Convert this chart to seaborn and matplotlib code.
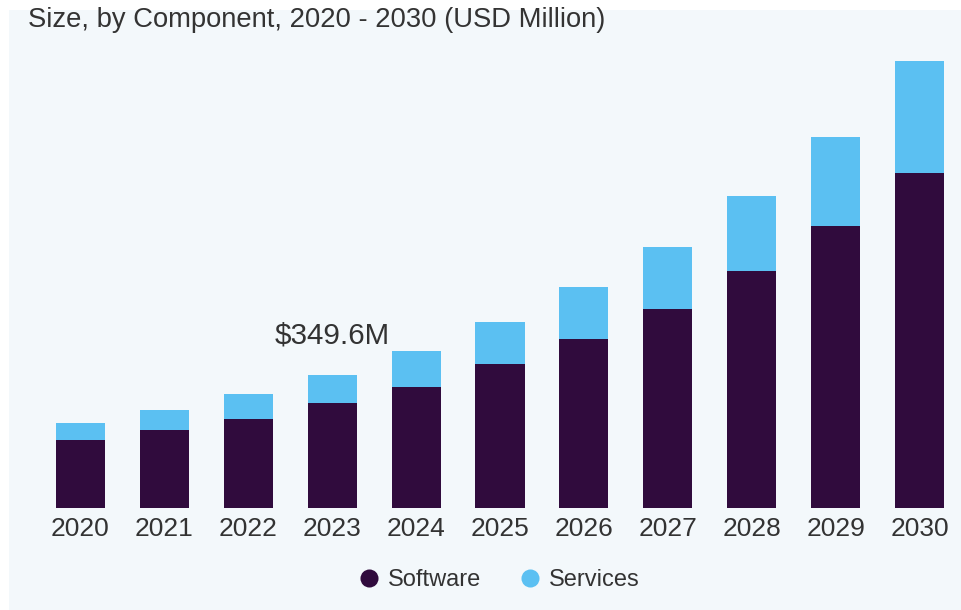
import matplotlib
matplotlib.use("Agg")
import matplotlib.pyplot as plt
from matplotlib.lines import Line2D
from matplotlib.patches import Rectangle
import seaborn as sns
import pandas as pd

# Market size by component, USD million
years = ["2020", "2021", "2022", "2023", "2024", "2025",
         "2026", "2027", "2028", "2029", "2030"]
software = [178.1, 204.5, 232.7, 274.9, 318.7, 378.6,
            443.8, 523.7, 624.0, 742.7, 883.4]
services = [44.1, 53.5, 67.6, 74.7, 94.2, 111.6,
            138.8, 164.4, 197.9, 235.7, 294.7]
labelled_year = "2023"
title = "Size, by Component, 2020 - 2030 (USD Million)"

SOFTWARE_COLOR = "#300b3d"
SERVICES_COLOR = "#5bc0f2"
PANEL_COLOR = "#f3f8fb"
TEXT_COLOR = "#333333"

df = pd.DataFrame({"year": years, "Software": software, "Services": services})
df["total"] = df["Software"] + df["Services"]

sns.set_theme(style="white")
plt.rcParams["font.family"] = ["Liberation Sans", "DejaVu Sans"]

fig = plt.figure(figsize=(9.62, 6.10), dpi=100, facecolor="white")
fig.patches.append(Rectangle((9 / 962, 0), 953 / 962, 1 - 10 / 610,
                             transform=fig.transFigure, facecolor=PANEL_COLOR,
                             edgecolor="none", zorder=-10))

ax = fig.add_axes([38.5 / 962, (610 - 507.5) / 610, 923 / 962, 467.5 / 610])
ax.patch.set_alpha(0)

# stacked bars: full total in the services colour, software drawn over it
sns.barplot(data=df, x="year", y="total", color=SERVICES_COLOR,
            saturation=1, width=0.584, linewidth=0, ax=ax)
sns.barplot(data=df, x="year", y="Software", color=SOFTWARE_COLOR,
            saturation=1, width=0.584, linewidth=0, ax=ax)

ax.set_xlim(-0.5, len(years) - 0.5)
ax.set_ylim(0, 467.5 * 349.6 / 132.5)
ax.set_xlabel("")
ax.set_ylabel("")
ax.set_yticks([])
ax.tick_params(axis="x", length=0, pad=6.5, labelsize=19, labelcolor=TEXT_COLOR)
for s in ax.spines.values():
    s.set_visible(False)

i = years.index(labelled_year)
tot = df.loc[i, "total"]
ax.annotate(f"${tot:.1f}M", xy=(i, tot), xytext=(0, 28.5),
            textcoords="offset points", ha="center", va="center",
            fontsize=21.3, color=TEXT_COLOR)

fig.text(28 / 962, 1 - 20 / 610, title, ha="left", va="center",
         fontsize=19.7, color=TEXT_COLOR)

handles = [Line2D([], [], marker="o", linestyle="none", markersize=13,
                  markerfacecolor=SOFTWARE_COLOR, markeredgecolor="none"),
           Line2D([], [], marker="o", linestyle="none", markersize=13,
                  markerfacecolor=SERVICES_COLOR, markeredgecolor="none")]
fig.legend(handles, ["Software", "Services"], loc="center",
           bbox_to_anchor=(497 / 962, 1 - 580 / 610), ncol=2, frameon=False,
           fontsize=17, labelcolor=TEXT_COLOR, handletextpad=0.2,
           columnspacing=1.45, handlelength=1.2)

fig.savefig("out.png", dpi=100, facecolor="white")
